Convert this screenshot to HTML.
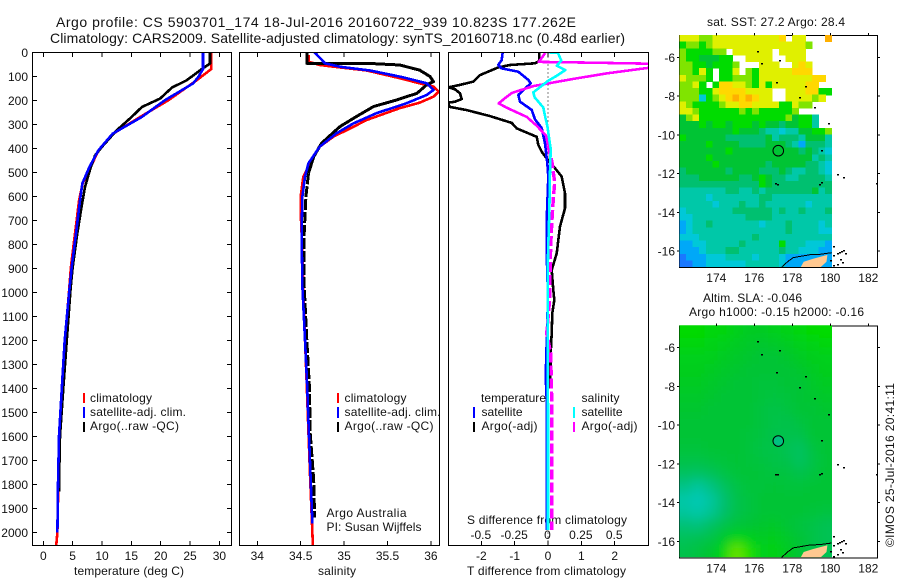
<!DOCTYPE html>
<html>
<head>
<meta charset="utf-8">
<title>Argo profile</title>
<style>
html,body{margin:0;padding:0;background:#fff;}
svg{display:block;font-family:"Liberation Sans",sans-serif;font-size:12px;fill:#000;}
text{fill:#111;}
.crisp{shape-rendering:crispEdges;}
.big{font-size:14px;}
</style>
</head>
<body>
<svg id="chart" width="900" height="580" viewBox="0 0 900 580" xmlns="http://www.w3.org/2000/svg">
<defs>
<clipPath id="clip-t"><rect x="32.5" y="52.5" width="199" height="493"/></clipPath>
<clipPath id="clip-s"><rect x="239.5" y="52.5" width="200" height="493"/></clipPath>
<clipPath id="clip-d"><rect x="448.5" y="52.5" width="200" height="493"/></clipPath>
<clipPath id="clip-map1"><rect x="679.5" y="35" width="152.5" height="232"/></clipPath>
<clipPath id="clip-map2"><rect x="679.5" y="325.3" width="152.5" height="232"/></clipPath>
<filter id="soft" x="-10%" y="-10%" width="120%" height="120%"><feGaussianBlur stdDeviation="5.5"/></filter>
</defs>
<rect x="0" y="0" width="900" height="580" fill="#fff"/>

<text class="big" x="56" y="27" textLength="520" lengthAdjust="spacing">Argo profile: CS 5903701_174 18-Jul-2016 20160722_939 10.823S 177.262E</text>
<text class="big" x="50" y="43" textLength="575" lengthAdjust="spacing">Climatology: CARS2009. Satellite-adjusted climatology: synTS_20160718.nc (0.48d earlier)</text>
<text x="74" y="575" textLength="110" lengthAdjust="spacing">temperature (deg C)</text>
<text x="318" y="575" textLength="38" lengthAdjust="spacing">salinity</text>
<text x="467" y="575" textLength="159" lengthAdjust="spacing">T difference from climatology</text>
<text x="467" y="524" textLength="160" lengthAdjust="spacing">S difference from climatology</text>
<text x="707" y="26" textLength="138" lengthAdjust="spacing">sat. SST: 27.2 Argo: 28.4</text>
<text x="703" y="302" textLength="99" lengthAdjust="spacing">Altim. SLA: -0.046</text>
<text x="689" y="316" textLength="175" lengthAdjust="spacing">Argo h1000: -0.15 h2000: -0.16</text>
<text transform="translate(894 547) rotate(-90)" textLength="164" lengthAdjust="spacing">©IMOS 25-Jul-2016 20:41:11</text>

<g id="layer-plots"></g>
<g id="layer-maps"></g>

<g>
<rect class="crisp" x="83" y="393" width="2" height="10" fill="#f00"/>
<rect class="crisp" x="83" y="407" width="2" height="11" fill="#00f"/>
<rect class="crisp" x="83" y="422" width="2" height="10" fill="#000"/>
<text x="90" y="402" textLength="62" lengthAdjust="spacing">climatology</text>
<text x="90" y="416" textLength="96" lengthAdjust="spacing">satellite-adj. clim.</text>
<text x="90" y="430" textLength="89" lengthAdjust="spacing">Argo(..raw -QC)</text>
</g>
<g>
<rect class="crisp" x="337" y="393" width="2" height="10" fill="#f00"/>
<rect class="crisp" x="337" y="407" width="2" height="11" fill="#00f"/>
<rect class="crisp" x="337" y="422" width="2" height="10" fill="#000"/>
<text x="344.5" y="402" textLength="62" lengthAdjust="spacing">climatology</text>
<text x="344.5" y="416" textLength="96" lengthAdjust="spacing">satellite-adj. clim.</text>
<text x="344.5" y="430" textLength="89" lengthAdjust="spacing">Argo(..raw -QC)</text>
<text x="326.5" y="517" textLength="80" lengthAdjust="spacing">Argo Australia</text>
<text x="326.5" y="531" textLength="95" lengthAdjust="spacing">PI: Susan Wijffels</text>
</g>
<g>
<text x="481" y="402" textLength="65" lengthAdjust="spacing">temperature</text>
<rect class="crisp" x="473" y="407" width="2" height="11" fill="#00f"/>
<rect class="crisp" x="473" y="422" width="2" height="10" fill="#000"/>
<text x="481.5" y="416" textLength="41" lengthAdjust="spacing">satellite</text>
<text x="481.5" y="430" textLength="56" lengthAdjust="spacing">Argo(-adj)</text>
<text x="581.5" y="402" textLength="38" lengthAdjust="spacing">salinity</text>
<rect class="crisp" x="573" y="407" width="2" height="11" fill="#0ff"/>
<rect class="crisp" x="573" y="422" width="2" height="10" fill="#f0f"/>
<text x="581.5" y="416" textLength="41" lengthAdjust="spacing">satellite</text>
<text x="581.5" y="430" textLength="56" lengthAdjust="spacing">Argo(-adj)</text>
</g>
</svg>

<script>
/* ---------- profile data: [depth m, value] ---------- */
const depthTicks = [0,100,200,300,400,500,600,700,800,900,1000,1100,1200,1300,1400,1500,1600,1700,1800,1900,2000];
const tempTicks = [0,5,10,15,20,25,30];
const salTicks = [34,34.5,35,35.5,36];
const salTickLabels = ['34','34.5','35','35.5','36'];
const diffTicks = [-2,-1,0,1,2];
const sDiffLabels = ['-0.5','-0.25','0','0.25','0.5'];
const sDiffTicks = [-0.5,-0.25,0,0.25,0.5];

const tempClim = [[0,28.6],[70,28.6],[117,26.1],[200,21.3],[269,16.5],[339,11.9],[408,9.4],[478,8.07],[547,6.7],[617,6.1],[755,5.4],[895,4.7],[992,4.4],[1200,3.7],[1400,3.2],[1600,2.7],[1800,2.55],[2000,2.4],[2056,2.2]];
const tempSat = [[0,27.2],[70,27.2],[103,26.4],[130,25.5],[200,20.7],[269,16.8],[339,11.8],[408,9.4],[478,7.85],[547,6.65],[617,6.25],[755,5.57],[895,4.84],[992,4.43],[1200,3.65],[1400,3.15],[1600,2.68],[1800,2.5],[2000,2.4]];
const tempArgo = [[0,28.4],[47,28.4],[70,27],[117,24.4],[147,21.9],[193,19.9],[228,16.8],[269,15.06],[325,12.5],[388,10.2],[430,8.8],[485,8],[561,7.1],[645,6.5],[755,5.8],[895,5.0],[979,4.67],[1200,4.0],[1400,3.4],[1600,2.85],[1800,2.67],[1830,2.67]];

const salClim = [[11,34.59],[39,34.59],[53,34.72],[60,34.88],[76,35.26],[108,35.64],[129,35.87],[143,36.03],[164,36.09],[185,36.03],[210,35.87],[233,35.64],[282,35.26],[317,35.07],[351,34.88],[393,34.72],[462,34.61],[518,34.53],[601,34.5],[671,34.5],[754,34.51],[976,34.53],[1198,34.55],[1393,34.57],[1588,34.59],[1782,34.61],[1963,34.63],[2056,34.64]];
const salSat = [[0,34.66],[46,34.78],[60,34.95],[76,35.3],[104,35.68],[129,35.95],[157,36.03],[178,35.95],[212,35.72],[254,35.37],[296,35.11],[338,34.91],[393,34.72],[462,34.59],[518,34.55],[601,34.52],[754,34.51],[976,34.52],[1198,34.55],[1393,34.575],[1588,34.595],[1782,34.615],[1963,34.635]];
const salArgo = [[0,34.57],[46,34.57],[46,35.26],[53,35.64],[74,35.87],[101,35.99],[122,36.03],[136,35.95],[171,35.84],[199,35.6],[226,35.34],[268,35.14],[310,34.95],[379,34.74],[435,34.65],[504,34.59],[601,34.56],[754,34.54],[976,34.54],[1198,34.57],[1393,34.6],[1588,34.61],[1782,34.65],[1938,34.66]];

const diffTSat = [[0,-1.36],[32,-1.39],[53,-1.49],[67,-1.39],[81,-0.89],[115,-0.59],[129,-0.52],[178,-0.89],[206,-0.84],[240,-0.49],[279,-0.39],[316,-0.19],[379,-0.09],[462,-0.02],[518,0.01],[698,-0.04],[838,-0.04],[1018,0],[1351,-0.07],[1449,-0.04],[1990,-0.04]];
const diffTArgo = [[0,-0.26],[37,-0.26],[46,-0.39],[53,-1.14],[63,-1.49],[95,-2.04],[122,-2.24],[136,-2.64],[146,-2.99],[154,-2.79],[171,-2.64],[195,-2.59],[206,-2.79],[210,-2.99],[227,-2.96],[241,-2.44],[266,-1.74],[294,-1.09],[317,-0.94],[352,-0.34],[386,-0.29],[414,-0.19],[442,-0.04],[483,0.21],[518,0.41],[587,0.51],[650,0.51],[726,0.36],[838,0.26],[907,0.11],[990,0.16],[1032,0.19],[1087,0.13],[1171,0.11],[1254,0.08],[1351,0.07],[1400,0.05]];
const diffSSat = [[0,0],[3,0.075],[35,0.1],[56,0.065],[74,0.13],[98,0.065],[119,0],[167,-0.11],[188,-0.1],[230,-0.035],[271,-0.02],[306,-0.005],[403,0.02],[501,0.015],[667,0.01],[848,0],[1015,-0.003],[1171,-0.003],[1500,0],[1990,0]];
const diffSArgo = [[3,-0.02],[40,-0.07],[43,0.3],[48,0.8],[58,0.9],[65,0.75],[88,0.44],[111,0.19],[141,-0.11],[169,-0.27],[190,-0.32],[213,-0.37],[231,-0.31],[269,-0.16],[306,-0.085],[347,-0.015],[389,0],[458,0.03],[542,0.05],[611,0.04],[695,0.03],[806,0.02],[931,0.015],[1015,0.015],[1171,-0.01],[1254,0.02],[1449,0.0275],[1727,0.0275],[1990,0.0275]];

/* ---------- map data ---------- */
const lonTicks = [174,176,178,180,182];
const latTicks = [-6,-8,-10,-12,-14,-16];
const floatLon = [177.262];
const floatLat = [-10.823];
const sstRows = [
"8887788888888889.88...a",
"67767888888888888887...",
"7666677.888888.8888....",
"76655566..8888..888....",
"776656667...888..898...",
"77686.668.7688888999...",
"87776.6677768888888899.",
"7786.6998876868888899..",
"77766899998888..8889966",
"77726789a9a988..888878.",
"87666678899888866877...",
"887666666767666667.....",
"57866666666666667566 3..".replace(' ',''),
"555656656665655455663..",
"55555555655543323355667",
"65555554444445344435553",
"55556555544445554314443",
"55555556555555555545432",
"55556555555555555555343",
"55555655555554555554432",
"45555554555544454334432",
"44455555544565443344443",
"44444444444465444444444",
"33333334433434444444534",
"33332333333344333333333",
"33333233343343333332333",
"23333333444444343343334",
"22333333334444333333333",
"12334333333323334333323",
"12333333333333334333322",
"22233333333433333333333",
"11223333343333363332221",
"11123334433333343322211",
"01112223333233321111111",
"00112222223333321111111"
];
const slaRows = [
[5.9,5.9,5.8,5.7,5.5,5.3,5.3,5.5,5.6,5.8,5.9,6],
[5.7,5.7,5.6,5.5,5.3,5.2,5.1,5.2,5.3,5.5,5.6,5.7],
[5.5,5.5,5.5,5.3,5.2,5.1,5,5,5.1,5.3,5.4,5.5],
[5.4,5.4,5.3,5.2,5.1,5,5,5,5,5.1,5.3,5.4],
[5.3,5.3,5.2,5.1,5,5,4.9,4.9,5,5,5.2,5.3],
[5.2,5.2,5.1,5,5,5,4.9,4.8,4.9,5,5.1,5.2],
[5.1,5.1,5,5,5,5,4.8,4.7,4.8,5,5,5.1],
[5,5,5,5,5,5,4.8,4.7,4.6,4.8,5,5],
[5,5,5,5,5,4.9,4.8,4.6,4.6,4.6,5,5],
[4.9,4.9,5,5,5,4.9,4.7,4.7,4.5,4.3,4.8,5],
[4.7,4.7,4.8,4.9,5,4.9,4.8,4.7,4.6,4.3,4.7,5],
[4.3,4.2,4.4,4.7,4.9,5,4.9,4.8,4.8,4.6,4.8,5],
[3.6,3.2,3.7,4.3,4.7,4.9,4.9,5,4.9,4.9,5,5],
[3,2.7,3.2,4,4.6,4.8,5,5,5,5,5,5],
[3.2,3,3.4,4.1,4.6,4.8,5,5,5,5,4.9,4.8],
[3.9,3.8,4.2,4.6,4.9,5,5.1,5.2,5,4.8,4.7,4.5],
[4.4,4.5,4.7,5.2,5.7,5.5,5.3,5.4,5.2,5,4.7,4.5],
[4.6,4.8,5.1,5.8,6.8,6.2,5.5,5.6,5.3,5,4.7,4.5]
];
const colorStops = ['#1a78ff','#00a8f8','#00c8d8','#00c8a8','#00c070','#00c434','#00dc00','#80e400','#e0f000','#ffd800','#ffb000'];
const islandLon = [176.12,176.33,177.32,177.16,178.68,178.37,179.16,179.88,179.5,180.37,180.68,182.4,177.09,177.2,179.53,179.42,180.16,180.33,180.65,180.77,180.51,180.33,180.16,180.6,179.98,180.12,180.45,180.55];
const islandLat = [-5.66,-6.31,-6.14,-7.26,-7.48,-8.03,-8.59,-9.41,-10.76,-12,-12.17,-12.5,-12.5,-12.52,-12.45,-12.55,-16.2,-16.1,-15.93,-16.1,-16.4,-16.66,-16.74,-16.57,-16.48,-15.72,-16.05,-15.98];
const fijiLon = [178.45,178.6,179.1,179.85,179.8,179.5];
const fijiLat = [-16.84,-16.55,-16.4,-16.2,-16.55,-16.84];
const coastLon = [177.44,177.79,178.05,178.93,179.46,180.07];
const coastLat = [-16.84,-16.52,-16.34,-16.19,-16.17,-16.09];

/* ---------- helpers ---------- */
const NS = 'http://www.w3.org/2000/svg';
const plots = document.getElementById('layer-plots');
const maps = document.getElementById('layer-maps');

function make(tag, parent, attrs, name) {
  const el = document.createElementNS(NS, tag);
  for (const k in attrs) el.setAttribute(k, attrs[k]);
  
  
  parent.appendChild(el);
  return el;
}
function label(parent, x, y, str, anchor, name) {
  const el = make('text', parent, {x: x, y: y, 'text-anchor': anchor}, name);
  el.textContent = str;
  return el;
}
function tick(parent, x1, y1, x2, y2, name) {
  make('line', parent, {x1: x1, y1: y1, x2: x2, y2: y2, stroke: '#000', 'stroke-width': 1, 'shape-rendering': 'crispEdges'}, name);
}

/* ---------- axis functions ---------- */
const yDepth = d => 52.3 + 0.24 * d;
const xTemp = t => 43.3 + 5.87 * t;
const xSal = s => 257.3 + 86.8 * (s - 34);
const xDiffT = d => 548 + 33.33 * d;
const xDiffS = s => 548 + 133.33 * s;

function frame(parent, x0, x1, name) {
  make('rect', parent, {x: x0, y: 52.5, width: x1 - x0, height: 493, fill: 'none', stroke: '#000', 'stroke-width': 1, 'shape-rendering': 'crispEdges'}, name);
}
function series(parent, data, xf, color, width, clip, name, dash) {
  const pts = data.map(p => xf(p[1]).toFixed(1) + ',' + yDepth(p[0]).toFixed(1)).join(' ');
  const attrs = {points: pts, fill: 'none', stroke: color, 'stroke-width': width, 'clip-path': 'url(#' + clip + ')', 'stroke-linejoin': 'round', 'shape-rendering': 'crispEdges'};
  if (dash) attrs['stroke-dasharray'] = dash;
  make('polyline', parent, attrs, name);
}

/* temperature panel */
const pT = make('g', plots, {}, 'temperature-panel');
series(pT, tempClim, xTemp, '#f00', 2.6, 'clip-t', 'temperature-climatology-line');
series(pT, tempArgo, xTemp, '#000', 2.6, 'clip-t', 'temperature-argo-line');
series(pT, tempSat, xTemp, '#00f', 2.6, 'clip-t', 'temperature-satellite-line');
frame(pT, 32.5, 231.5, 'temperature-plot-frame');
depthTicks.forEach(d => {
  const y = yDepth(d);
  tick(pT, 32.5, y, 37, y, 'depth-tick');
  tick(pT, 227, y, 231.5, y, 'depth-tick-right');
  label(pT, 28, y + 4.5, String(d), 'end', 'depth-tick-label');
});
tempTicks.forEach(t => {
  const x = xTemp(t);
  tick(pT, x, 52.5, x, 57, 'temperature-tick-top');
  tick(pT, x, 541, x, 545.5, 'temperature-tick-bottom');
  label(pT, x, 560, String(t), 'middle', 'temperature-tick-label');
});

/* salinity panel */
const pS = make('g', plots, {}, 'salinity-panel');
series(pS, salClim, xSal, '#f00', 2.6, 'clip-s', 'salinity-climatology-line');
series(pS, salArgo.filter(p => p[0] <= 504), xSal, '#000', 3, 'clip-s', 'salinity-argo-line');
series(pS, salArgo.filter(p => p[0] >= 504), xSal, '#000', 3, 'clip-s', 'salinity-argo-deep-line', '11 2');
series(pS, salSat, xSal, '#00f', 2.6, 'clip-s', 'salinity-satellite-line');
frame(pS, 239.5, 439.5, 'salinity-plot-frame');
salTicks.forEach((s, i) => {
  const x = xSal(s);
  tick(pS, x, 52.5, x, 57, 'salinity-tick-top');
  tick(pS, x, 541, x, 545.5, 'salinity-tick-bottom');
  label(pS, x, 560, salTickLabels[i], 'middle', 'salinity-tick-label');
});

/* difference panel */
const pD = make('g', plots, {}, 'difference-panel');
make('line', pD, {x1: xDiffT(0), y1: 52.5, x2: xDiffT(0), y2: 545, stroke: '#000', 'stroke-width': 1, 'stroke-dasharray': '1 3', 'shape-rendering': 'crispEdges'}, 'zero-reference-line');
series(pD, diffTArgo, xDiffT, '#000', 2.6, 'clip-d', 'difference-t-argo-line');
series(pD, diffTSat, xDiffT, '#00f', 2.6, 'clip-d', 'difference-t-satellite-line');
series(pD, diffSArgo.filter(p => p[0] <= 389), xDiffS, '#f0f', 2.6, 'clip-d', 'difference-s-argo-line');
series(pD, diffSArgo.filter(p => p[0] >= 389), xDiffS, '#f0f', 3.4, 'clip-d', 'difference-s-argo-deep-line', '10 3');
series(pD, diffSSat, xDiffS, '#0ff', 2.6, 'clip-d', 'difference-s-satellite-line');
frame(pD, 448.5, 648.5, 'difference-plot-frame');
diffTicks.forEach(t => {
  const x = xDiffT(t);
  tick(pD, x, 52.5, x, 57, 'difference-tick-top');
  tick(pD, x, 541, x, 545.5, 'difference-tick-bottom');
  label(pD, x, 560, String(t), 'middle', 'difference-t-tick-label');
});
sDiffTicks.forEach((s, i) => {
  label(pD, xDiffS(s) - 0.5, 539, sDiffLabels[i], 'middle', 'difference-s-tick-label');
});

/* ---------- maps ---------- */
const xLon = lon => 716.3 + (lon - 174) * 19;
const yLat = (lat, top) => top + 22.3 + (-6 - lat) * 19.37;
const gridLon0 = 172.05, gridLon1 = 180.08, gridLat0 = -4.85, gridLat1 = -16.83;

function colorOf(v) {
  const clamped = Math.max(0, Math.min(10, v));
  const i = Math.min(9, Math.floor(clamped));
  const f = clamped - i;
  const a = colorStops[i], b = colorStops[i + 1];
  const ch = (s, p) => parseInt(s.substr(p, 2), 16);
  const mix = p => Math.round(ch(a, p) + (ch(b, p) - ch(a, p)) * f);
  return 'rgb(' + mix(1) + ',' + mix(3) + ',' + mix(5) + ')';
}
function mapFrame(g, top) {
  make('rect', g, {x: 679.5, y: top + 0.5, width: 198, height: 232, fill: '#fff', stroke: '#000', 'stroke-width': 1, 'shape-rendering': 'crispEdges'}, 'map-frame');
}
function mapOverlay(g, top, circleFill) {
  make('polygon', g, {points: fijiLon.map((lon, i) => xLon(lon).toFixed(1) + ',' + Math.min(top + 232, yLat(fijiLat[i], top)).toFixed(1)).join(' '), fill: '#ffc890'}, 'fiji-land');
  make('polyline', g, {points: coastLon.map((lon, i) => xLon(lon).toFixed(1) + ',' + Math.min(top + 232, yLat(coastLat[i], top)).toFixed(1)).join(' '), fill: 'none', stroke: '#000', 'stroke-width': 1, 'shape-rendering': 'crispEdges'}, 'fiji-coastline');
  islandLon.forEach((lon, i) => {
    make('rect', g, {x: Math.round(xLon(lon)), y: Math.round(yLat(islandLat[i], top)), width: 2, height: 1.5, fill: '#000'}, 'island-marker');
  });
  make('circle', g, {cx: xLon(floatLon[0]), cy: yLat(floatLat[0], top), r: 5.3, fill: circleFill, stroke: '#000', 'stroke-width': 1}, 'float-position-marker');
  lonTicks.forEach(lon => {
    const x = xLon(lon);
    tick(g, x, top - 2, x, top + 0.5, 'longitude-tick');
    label(g, x, top + 247, String(lon), 'middle', 'longitude-tick-label');
  });
  latTicks.forEach(lat => {
    const y = yLat(lat, top);
    tick(g, 677, y, 679.5, y, 'latitude-tick-left');
    tick(g, 877.5, y, 880, y, 'latitude-tick-right');
    label(g, 675, y + 4.5, String(lat), 'end', 'latitude-tick-label');
  });
}

/* SST map */
const m1 = make('g', maps, {}, 'sst-map');
const top1 = 35;
mapFrame(m1, top1);
const sstCells = make('g', m1, {'clip-path': 'url(#clip-map1)', 'shape-rendering': 'crispEdges'}, 'sst-heatmap');
sstRows.forEach((row, r) => {
  const latA = gridLat0 + (gridLat1 - gridLat0) * r / sstRows.length;
  const latB = gridLat0 + (gridLat1 - gridLat0) * (r + 1) / sstRows.length;
  const nCols = 23;
  for (let c = 0; c < nCols && c < row.length; c++) {
    const ch = row[c];
    if (ch === '.') continue;
    const lonA = gridLon0 + (gridLon1 - gridLon0) * c / nCols;
    const lonB = gridLon0 + (gridLon1 - gridLon0) * (c + 1) / nCols;
    make('rect', sstCells, {x: xLon(lonA).toFixed(1), y: yLat(latA, top1).toFixed(1), width: (xLon(lonB) - xLon(lonA) + 0.6).toFixed(1), height: (yLat(latB, top1) - yLat(latA, top1) + 0.6).toFixed(1), fill: colorOf(parseInt(ch, 36))}, 'sst-cell');
  }
});
mapOverlay(m1, top1, 'none');

/* SLA map */
const m2 = make('g', maps, {}, 'sla-map');
const top2 = 325.3;
mapFrame(m2, top2);
const slaClip = make('g', m2, {'clip-path': 'url(#clip-map2)'}, 'sla-heatmap');
const slaCells = make('g', slaClip, {filter: 'url(#soft)', 'shape-rendering': 'crispEdges'}, 'sla-heatmap-cells');
slaRows.forEach((row, r) => {
  const latA = gridLat0 + (gridLat1 - gridLat0) * r / slaRows.length;
  const latB = gridLat0 + (gridLat1 - gridLat0) * (r + 1) / slaRows.length;
  row.forEach((v, c) => {
    const lonA = gridLon0 + (gridLon1 - gridLon0) * c / row.length;
    const lonB = gridLon0 + (gridLon1 - gridLon0) * (c + 1) / row.length;
    let x0 = xLon(lonA), x1 = xLon(lonB), y0 = yLat(latA, top2), y1 = yLat(latB, top2);
    if (c === 0) x0 -= 25;
    if (c === row.length - 1) x1 += 25;
    if (r === 0) y0 -= 25;
    if (r === slaRows.length - 1) y1 += 25;
    make('rect', slaCells, {x: x0.toFixed(1), y: y0.toFixed(1), width: (x1 - x0 + 0.6).toFixed(1), height: (y1 - y0 + 0.6).toFixed(1), fill: colorOf(v)}, 'sla-cell');
  });
});
mapOverlay(m2, top2, '#00c080');
</script>
</body>
</html>
